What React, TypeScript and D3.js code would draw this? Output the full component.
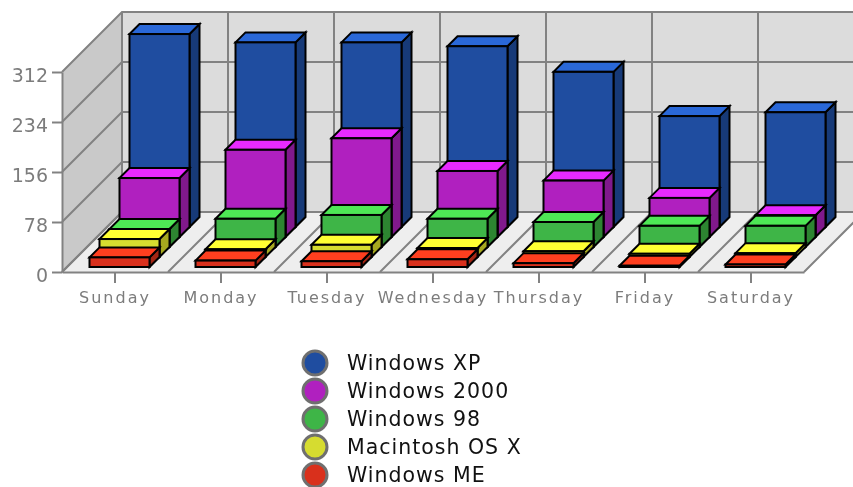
import { useEffect, useRef } from "react";
import * as d3 from "d3";

const days = ["Sunday", "Monday", "Tuesday", "Wednesday", "Thursday", "Friday", "Saturday"];
const yTicks = [0, 78, 156, 234, 312];

// series run back to front
const seriesNames = ["Windows XP", "Windows 2000", "Windows 98", "Macintosh OS X", "Windows ME"];
const windowsXP = [301, 288, 288, 282, 242, 173, 179];
const windows2000 = [92, 136, 154, 103, 88, 61, 34];
const windows98 = [28, 44, 50, 44, 39, 33, 33];
const macOSX = [28, 12, 19, 14, 9, 5, 6];
const windowsME = [15, 10, 9, 12, 6, 2, 4];
const seriesValues = [windowsXP, windows2000, windows98, macOSX, windowsME];

const frontColors = ["#1f4da0", "#b020bf", "#3eb547", "#d6dc30", "#d9301c"];
const topColors = ["#2a68d8", "#e82aff", "#4ee855", "#ffff33", "#ff3f1f"];
const sideColors = ["#173a78", "#80198c", "#2d8531", "#a6a81f", "#a32614"];

const width = 853;
const height = 487;
const left = 62;
const right = 804;
const bottom = 272;
const top = 72;
const wallDepth = 60;
const barDepth = 10;
const gridColor = "#828282";

export default function App() {
  const svgRef = useRef<SVGSVGElement>(null);

  useEffect(() => {
    if (!svgRef.current) return;
    const svg = d3.select(svgRef.current);
    svg.selectAll("*").remove();

    const x = d3.scaleBand().domain(days).range([left, right]);
    const y = d3.scaleLinear().domain([0, 312]).range([bottom, top]);
    const line = d3.line();
    const poly = (pts: [number, number][]) => line(pts) + "Z";
    const bandEdges = d3.range(days.length + 1).map((i) => left + i * x.bandwidth());

    // walls and floor
    svg.append("path")
      .attr("d", poly([[left + wallDepth, top - wallDepth], [width + 20, top - wallDepth], [width + 20, bottom - wallDepth], [left + wallDepth, bottom - wallDepth]]))
      .attr("fill", "#dcdcdc");
    svg.append("path")
      .attr("d", poly([[left, top], [left + wallDepth, top - wallDepth], [left + wallDepth, bottom - wallDepth], [left, bottom]]))
      .attr("fill", "#c9c9c9");
    svg.append("path")
      .attr("d", poly([[left, bottom], [right, bottom], [right + wallDepth, bottom - wallDepth], [left + wallDepth, bottom - wallDepth]]))
      .attr("fill", "#eeeeee");

    const grid = svg.append("g").attr("stroke", gridColor).attr("stroke-width", 2).attr("fill", "none");
    yTicks.forEach((t) => {
      grid.append("path").attr("d", line([[left, y(t)], [left + wallDepth, y(t) - wallDepth], [width + 20, y(t) - wallDepth]]));
    });
    bandEdges.forEach((e) => {
      grid.append("path").attr("d", line([[e, bottom], [e + wallDepth, bottom - wallDepth], [e + wallDepth, top - wallDepth]]));
    });

    // axes
    const xAxis = svg.append("g")
      .attr("transform", `translate(0,${bottom})`)
      .call(d3.axisBottom(x).tickSize(11).tickSizeOuter(0));
    const yAxis = svg.append("g")
      .attr("transform", `translate(${left},0)`)
      .call(d3.axisLeft(y).tickValues(yTicks).tickSize(10).tickSizeOuter(0));
    [xAxis, yAxis].forEach((a) => {
      a.selectAll("path,line").attr("stroke", gridColor).attr("stroke-width", 2);
      a.selectAll("text").attr("fill", "#7c7c7c").attr("font-family", "DejaVu Sans");
    });
    xAxis.selectAll("text").attr("font-size", 16).attr("letter-spacing", 2).attr("y", 20);
    yAxis.selectAll("text").attr("font-size", 19).attr("x", -14).attr("y", 3);

    // bars, back series first so the front ones sit on top
    seriesValues.forEach((values, s) => {
      const slot = seriesValues.length - 1 - s;
      const g = svg.append("g").attr("stroke", "#000").attr("stroke-width", 2).attr("stroke-linejoin", "miter");
      values.forEach((v, i) => {
        const x0 = x(days[i])! + 27.5 + barDepth * slot;
        const x1 = x0 + 60;
        const yBase = bottom - 5 - barDepth * slot;
        const yTop = yBase - (y(0) - y(v));
        g.append("path")
          .attr("d", poly([[x1, yTop], [x1 + barDepth, yTop - barDepth], [x1 + barDepth, yBase - barDepth], [x1, yBase]]))
          .attr("fill", sideColors[s]);
        g.append("path")
          .attr("d", poly([[x0, yTop], [x0 + barDepth, yTop - barDepth], [x1 + barDepth, yTop - barDepth], [x1, yTop]]))
          .attr("fill", topColors[s]);
        g.append("rect")
          .attr("x", x0)
          .attr("y", yTop)
          .attr("width", x1 - x0)
          .attr("height", yBase - yTop)
          .attr("fill", frontColors[s]);
      });
    });

    // legend
    const legend = svg.append("g");
    seriesNames.forEach((name, i) => {
      const cy = 363 + i * 28;
      legend.append("circle")
        .attr("cx", 315)
        .attr("cy", cy)
        .attr("r", 12)
        .attr("fill", frontColors[i])
        .attr("stroke", "#6f6f6f")
        .attr("stroke-width", 3);
      legend.append("text")
        .attr("x", 347)
        .attr("y", cy + 7)
        .attr("font-family", "DejaVu Sans")
        .attr("font-size", 20.5)
        .attr("letter-spacing", 1)
        .attr("fill", "#111")
        .text(name);
    });
  }, []);

  return (
    <svg
      ref={svgRef}
      width={width}
      height={height}
      style={{ position: "absolute", left: 0, top: 0, background: "#fff", filter: "blur(0.4px)" }}
    />
  );
}
